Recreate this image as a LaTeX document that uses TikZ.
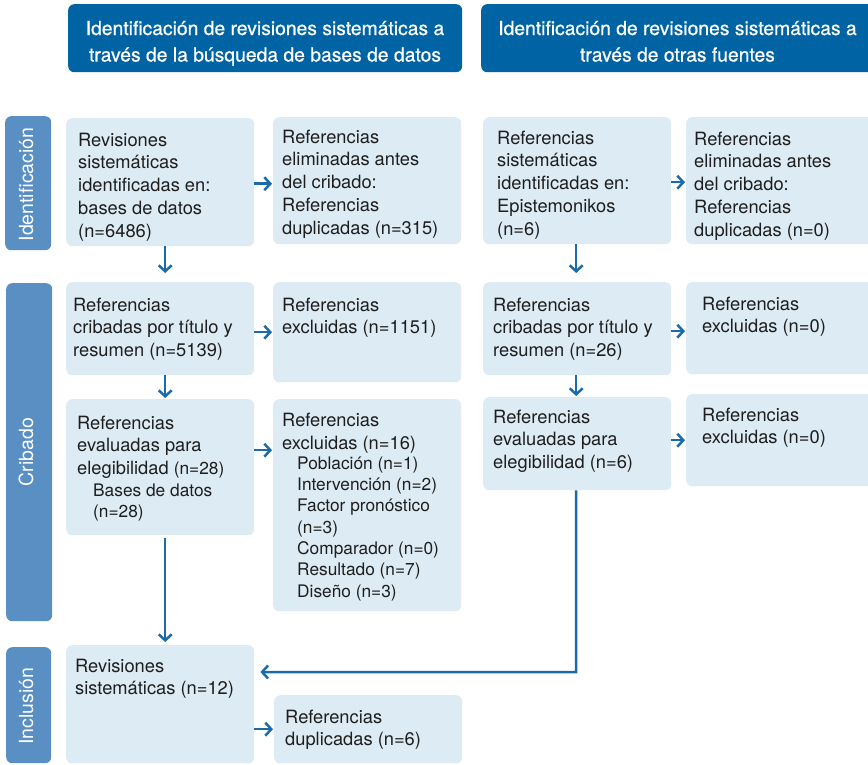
\documentclass[tikz,border=0pt]{standalone}
\usepackage{fontspec}
\setmainfont{TeX Gyre Heros}
\newfontfamily\hdrfont{TeX Gyre Heros}[FakeBold=0.7]
\usetikzlibrary{arrows.meta}
\definecolor{hdr}{HTML}{0063A3}
\definecolor{side}{HTML}{5A8FC3}
\definecolor{boxc}{HTML}{DDEBF5}
\definecolor{arr}{HTML}{1B6AAA}
\definecolor{txt}{HTML}{1E1E1E}
\begin{document}
\begin{tikzpicture}[x=1pt,y=-1pt,
  box/.style={fill=boxc, rounded corners=6pt, draw=none, inner sep=0pt, anchor=north west},
  hdrbox/.style={fill=hdr, rounded corners=6pt, draw=none, inner sep=0pt, anchor=north west},
  sidebox/.style={fill=side, rounded corners=6pt, draw=none, inner sep=0pt, anchor=north west},
  hdrtext/.style={align=center, inner sep=0pt, text=white, font=\hdrfont\fontsize{19.3}{26.5}\selectfont, anchor=base},
  sidetext/.style={inner sep=0pt, text=white, font=\fontsize{19.5}{24}\selectfont, rotate=90, anchor=base},
  tx/.style={align=left, inner sep=0pt, text=txt, font=\fontsize{18.3}{22.8}\selectfont, anchor=base west},
  subtx/.style={align=left, inner sep=0pt, text=txt, font=\fontsize{17.3}{21.3}\selectfont, anchor=base west},
  conn/.style={draw=arr, line width=2.5pt, -{Straight Barb[length=6pt,width=13pt]}}
]
\useasboundingbox (0,0) rectangle (868,764);
\clip (0,0) rectangle (868,764);

% headers (text anchors at the baseline of the last line)
\node[hdrbox, minimum width=394pt, minimum height=68pt] (H1) at (68,4) {};
\node[hdrtext] (H1t) at (265,61.5) {Identificación de revisiones sistemáticas a\\través de la búsqueda de bases de datos};
\node[hdrbox, minimum width=393pt, minimum height=68pt] (H2) at (481,4) {};
\node[hdrtext] (H2t) at (677.5,61.5) {Identificación de revisiones sistemáticas a\\través de otras fuentes};

% side bars
\node[sidebox, minimum width=46pt, minimum height=134pt] (S1) at (5,116) {};
\node[sidetext] (S1t) at (33,184.5) {Identificación};
\node[sidebox, minimum width=46pt, minimum height=338pt] (S2) at (6,283) {};
\node[sidetext] (S2t) at (33,452) {Cribado};
\node[sidebox, minimum width=45pt, minimum height=116pt] (S3) at (6,647) {};
\node[sidetext] (S3t) at (33,706) {Inclusión};

% left column
\node[box, minimum width=188pt, minimum height=128pt] (A) at (66,118) {};
\node[tx] (At) at (78,237.2) {Revisiones\\sistemáticas\\identificadas en:\\bases de datos\\(n=6486)};
\node[box, minimum width=188pt, minimum height=127pt] (B) at (273,117) {};
\node[tx] (Bt) at (282,234.2) {Referencias\\eliminadas antes\\del cribado:\\Referencias\\duplicadas (n=315)};

\node[box, minimum width=188pt, minimum height=93pt] (E) at (66,282) {};
\node[tx] (Et) at (73,356.6) {Referencias\\cribadas por título y\\resumen (n=5139)};
\node[box, minimum width=188pt, minimum height=100pt] (F) at (273,282) {};
\node[tx] (Ft) at (282,333.8) {Referencias\\excluidas (n=1151)};

\node[box, minimum width=188pt, minimum height=136pt] (G) at (66,399) {};
\node[tx] (Gt) at (77,474.6) {Referencias\\evaluadas para\\elegibilidad {\fontsize{17.3}{21.3}\selectfont(n=28)}};
\node[subtx] (Gs) at (93,517.8) {Bases de datos\\(n=28)};
\node[box, minimum width=188pt, minimum height=212pt] (H) at (273,399) {};
\node[tx] (Ht) at (282,449.3) {Referencias\\excluidas (n=16)};
\node[subtx] (Hs) at (297,597.1) {Población (n=1)\\Intervención (n=2)\\Factor pronóstico\\(n=3)\\Comparador (n=0)\\Resultado (n=7)\\Diseño (n=3)};

\node[box, minimum width=188pt, minimum height=118pt] (I) at (66,645) {};
\node[tx] (It) at (75,694.8) {Revisiones\\sistemáticas (n=12)};
\node[box, minimum width=188pt, minimum height=68pt] (J) at (274,695) {};
\node[tx] (Jt) at (285,745.8) {Referencias\\duplicadas (n=6)};

% right column
\node[box, minimum width=188pt, minimum height=127pt] (C) at (483,117) {};
\node[tx] (Ct) at (497,235.2) {Referencias\\sistemáticas\\identificadas en:\\Epistemonikos\\(n=6)};
\node[box, minimum width=188pt, minimum height=127pt] (D) at (686,117) {};
\node[tx] (Dt) at (694,236.2) {Referencias\\eliminadas antes\\del cribado:\\Referencias\\duplicadas (n=0)};

\node[box, minimum width=188pt, minimum height=93pt] (K) at (483,282) {};
\node[tx] (Kt) at (493,356.6) {Referencias\\cribadas por título y\\resumen (n=26)};
\node[box, minimum width=188pt, minimum height=92pt] (L) at (686,282) {};
\node[tx] (Lt) at (702,332.8) {Referencias\\excluidas (n=0)};

\node[box, minimum width=188pt, minimum height=93pt] (M) at (483,397) {};
\node[tx] (Mt) at (493,468.6) {Referencias\\evaluadas para\\elegibilidad (n=6)};
\node[box, minimum width=188pt, minimum height=92pt] (N) at (686,394) {};
\node[tx] (Nt) at (702,443.8) {Referencias\\excluidas (n=0)};

% connectors
\draw[conn, shorten >=1pt] ([yshift=-1.5pt]A.east) -- ([yshift=-1.5pt]A.east -| B.west);
\draw[conn, shorten >=1pt] ([yshift=-1.5pt]C.east) -- ([yshift=-1.5pt]C.east -| D.west);
\draw[conn, shorten >=1pt] (E.east |- F.west) -- (F.west);
\draw[conn, shorten >=1pt] ([yshift=17pt]G.east) -- ([yshift=17pt]G.east -| H.west);
\draw[conn, shorten >=1pt] ([yshift=-2.5pt]K.east) -- ([yshift=-2.5pt]K.east -| L.west);
\draw[conn, shorten >=1pt] (M.east |- N.west) -- (N.west);
\draw[conn, shorten >=1pt] (I.east |- J.west) -- (J.west);

\draw[conn, shorten >=9pt] ([xshift=5pt]A.south) -- ([xshift=5pt]E.north);
\draw[conn, shorten >=1pt] ([xshift=5pt]E.south) -- ([xshift=5pt]G.north);
\draw[conn, shorten <=3pt, shorten >=3pt] ([xshift=5pt]G.south) -- ([xshift=5pt]I.north);

\draw[conn, shorten >=9pt] ([xshift=-1pt]C.south) -- ([xshift=-1pt]K.north);
\draw[conn, shorten >=1pt] ([xshift=-1pt]K.south) -- ([xshift=-1pt]M.north);
\coordinate (bend) at (576,672);
\draw[conn, shorten >=6pt] ([xshift=-1pt]M.south) -- (bend) -- (bend -| I.east);
\end{tikzpicture}
\end{document}
